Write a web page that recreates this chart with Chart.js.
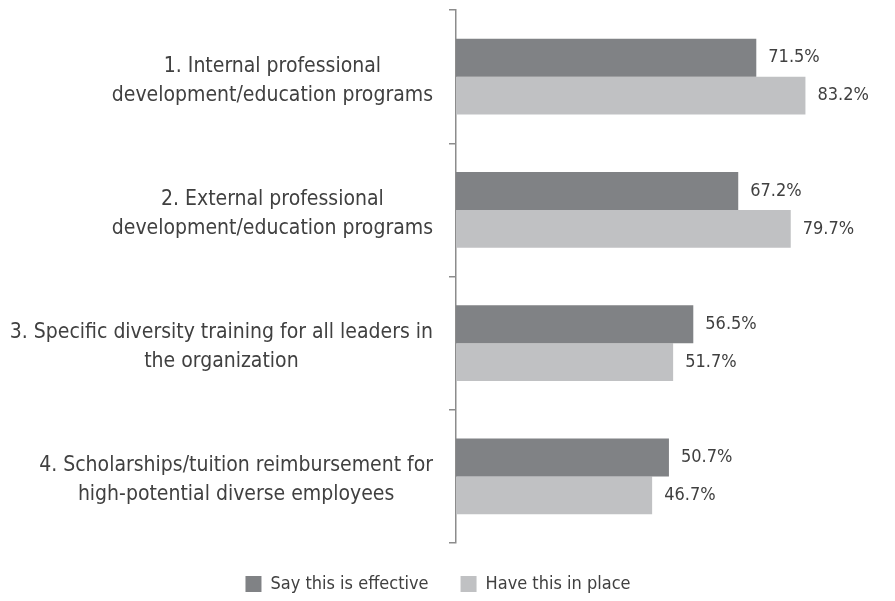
<!DOCTYPE html>
<html><head><meta charset="utf-8">
<script src="https://cdn.jsdelivr.net/npm/chart.js@4.4.1/dist/chart.umd.min.js"></script>
<style>html,body{margin:0;padding:0;background:#fff}#wrap{width:895px;height:601px}</style>
</head><body><div id="wrap"><canvas id="c" width="895" height="601"></canvas></div>
<script>
const categories = [
  ["1. Internal professional", "development/education programs"],
  ["2. External professional", "development/education programs"],
  ["3. Specific diversity training for all leaders in", "the organization"],
  ["4. Scholarships/tuition reimbursement for", "high-potential diverse employees"]
];
const seriesNames = ["Say this is effective", "Have this in place"];
const effective = [71.5, 67.2, 56.5, 50.7];
const inPlace = [83.2, 79.7, 51.7, 46.7];
const colors = ["#808285", "#c0c1c3"];
const FONT = "'Liberation Sans Narrow', 'DejaVu Sans Condensed', sans-serif";
const TXT = "#404040";

const labelPlugin = {
  id: 'labels',
  afterDatasetsDraw(chart) {
    const ctx = chart.ctx;
    ctx.save();
    ctx.font = "18px " + FONT;
    ctx.fillStyle = TXT;
    ctx.textAlign = 'left';
    ctx.textBaseline = 'middle';
    chart.data.datasets.forEach((ds, di) => {
      chart.getDatasetMeta(di).data.forEach((el, i) => {
        ctx.fillText(ds.data[i].toFixed(1) + '%', el.x + 12, el.y);
      });
    });
    // category labels: each centered on its own widest line, block right-aligned
    ctx.font = "21px " + FONT;
    const ys = chart.scales.y;
    const right = ys.right - 23;
    const lh = 29;
    chart.data.labels.forEach((lines, i) => {
      const yc = ys.getPixelForValue(i) + 4;
      const w = Math.max(...lines.map(l => ctx.measureText(l).width));
      ctx.textAlign = 'center';
      lines.forEach((l, k) => {
        ctx.fillText(l, right - w / 2, yc + (k - (lines.length - 1) / 2) * lh);
      });
    });
    ctx.restore();
  }
};

new Chart(document.getElementById('c'), {
  type: 'bar',
  data: {
    labels: categories,
    datasets: [
      { label: seriesNames[0], data: effective, backgroundColor: colors[0], categoryPercentage: 0.57, barPercentage: 1.0 },
      { label: seriesNames[1], data: inPlace, backgroundColor: colors[1], categoryPercentage: 0.57, barPercentage: 1.0 }
    ]
  },
  options: {
    indexAxis: 'y',
    responsive: false,
    animation: false,
    devicePixelRatio: 1,
    layout: { padding: { top: 10, right: 19, left: 0, bottom: 0 } },
    scales: {
      x: { display: false, min: 0, max: 100 },
      y: {
        afterFit(s) { s.width = 456; },
        border: { display: true, color: '#8c8c8c', width: 1.5 },
        grid: { display: true, drawOnChartArea: false, offset: true, tickLength: 7, color: '#8c8c8c', lineWidth: 1.5 },
        ticks: { display: false }
      }
    },
    plugins: {
      tooltip: { enabled: false },
      legend: {
        position: 'bottom',
        maxHeight: 58,
        labels: { boxWidth: 16, boxHeight: 16, padding: 32, color: TXT, font: { size: 18, family: FONT } }
      }
    }
  },
  plugins: [labelPlugin]
});
</script></body></html>
